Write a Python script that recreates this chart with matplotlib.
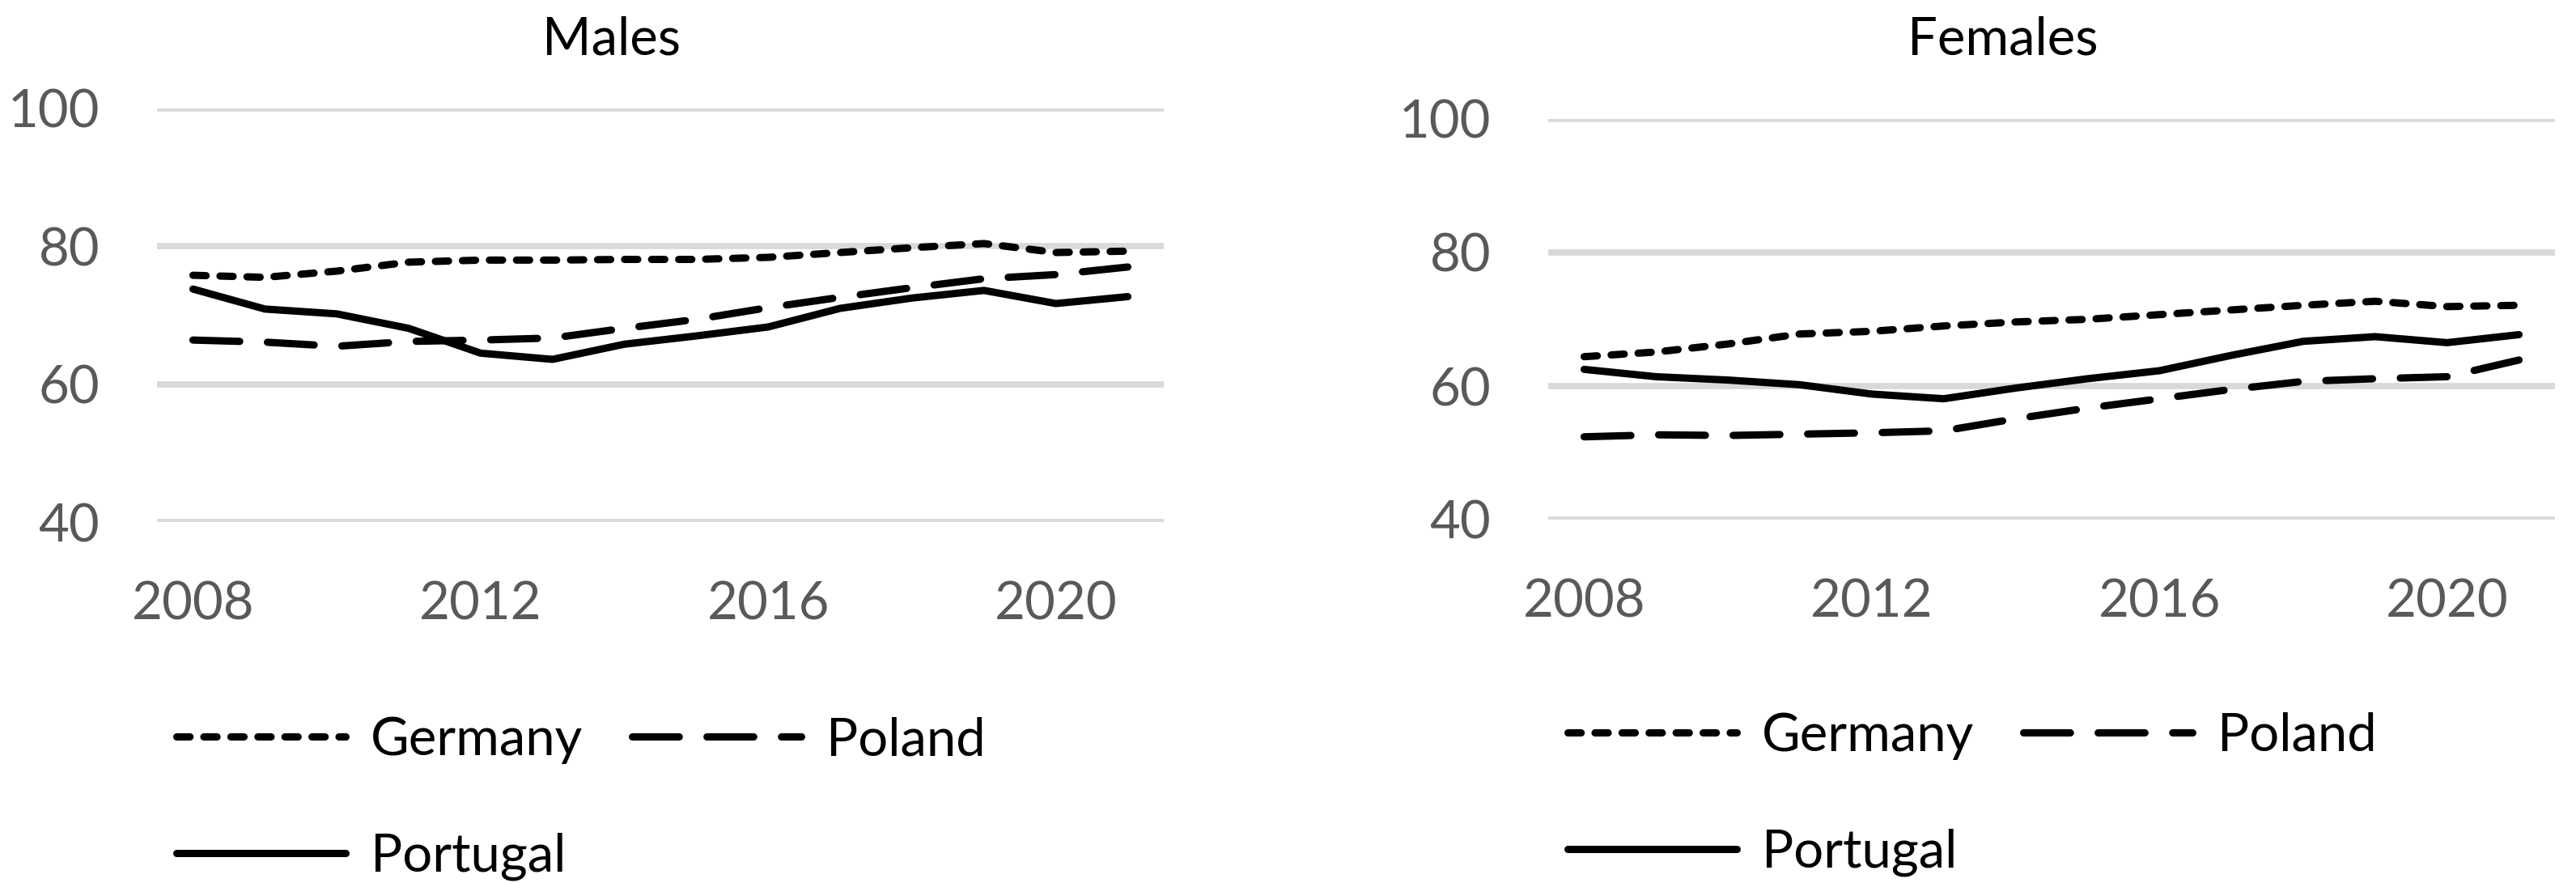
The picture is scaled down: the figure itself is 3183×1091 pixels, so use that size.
import matplotlib
matplotlib.use('Agg')
import matplotlib.pyplot as plt

years = [2008, 2009, 2010, 2011, 2012, 2013, 2014, 2015, 2016, 2017, 2018, 2019, 2020, 2021]

# males
germany_m = [75.8, 75.5, 76.4, 77.7, 78.0, 78.0, 78.1, 78.1, 78.4, 79.1, 79.8, 80.4, 79.1, 79.3]
poland_m = [66.4, 66.1, 65.5, 66.2, 66.4, 66.7, 68.1, 69.4, 71.1, 72.6, 74.0, 75.3, 75.9, 77.0]
portugal_m = [73.8, 70.9, 70.2, 68.1, 64.5, 63.6, 65.8, 67.0, 68.3, 71.0, 72.5, 73.6, 71.7, 72.7]

# females
germany_f = [64.4, 65.1, 66.3, 67.8, 68.2, 69.0, 69.6, 70.0, 70.7, 71.4, 72.1, 72.7, 71.9, 72.1]
poland_f = [52.4, 52.7, 52.6, 52.8, 53.0, 53.3, 55.1, 56.7, 58.1, 59.5, 60.7, 61.1, 61.4, 63.9]
portugal_f = [62.5, 61.4, 60.9, 60.2, 58.8, 58.1, 59.7, 61.1, 62.3, 64.6, 66.7, 67.4, 66.5, 67.7]

xticks = [2008, 2012, 2016, 2020]
yticks = [40, 60, 80, 100]

plt.rcParams['font.family'] = ['Lato', 'DejaVu Sans']

W, H = 3183, 1091
fig = plt.figure(figsize=(W / 100, H / 100), dpi=100)

LW = 6.5
FS = 47
dotted = (0, (1.8, 1.9))
dashed = (0, (6.4, 3.8))


def panel(rect, title, g, pl, pt, leg_anchor):
    ax = fig.add_axes(rect)
    l1, = ax.plot(years, g, color='black', lw=LW, linestyle=dotted,
                  dash_capstyle='round', solid_capstyle='round', label='Germany')
    l2, = ax.plot(years, pl, color='black', lw=LW, linestyle=dashed,
                  dash_capstyle='round', solid_capstyle='round', label='Poland')
    l3, = ax.plot(years, pt, color='black', lw=LW, linestyle='-',
                  solid_capstyle='round', solid_joinstyle='round', label='Portugal')
    ax.set_xlim(2007.5, 2021.5)
    ax.set_ylim(40, 100)
    ax.set_xticks(xticks)
    ax.set_yticks(yticks)
    ax.grid(axis='y', color='#D9D9D9', lw=5.5)
    ax.set_axisbelow(True)
    for s in ax.spines.values():
        s.set_visible(False)
    ax.tick_params(length=0, labelsize=FS, labelcolor='#595959')
    ax.tick_params(axis='y', pad=51)
    ax.tick_params(axis='x', pad=52)
    # title centred on the chart area
    fig.text(rect[0] + 562 / W, 1 - 68 / H, title, ha='center', va='baseline',
             fontsize=FS, color='black')
    ax.legend([l1, l3, l2], ['Germany', 'Portugal', 'Poland'], ncol=2,
              loc='upper left', bbox_to_anchor=leg_anchor, bbox_transform=fig.transFigure,
              frameon=False, fontsize=FS, handlelength=3.2, handletextpad=0.47,
              columnspacing=0.94, labelspacing=1.3, borderpad=0, borderaxespad=0)
    return ax


panel([194 / W, 1 - 645 / H, 1244 / W, 511 / H], 'Males',
      germany_m, poland_m, portugal_m, (218 / W, 1 - 885 / H))
panel([1913 / W, 1 - 642 / H, 1244 / W, 495 / H], 'Females',
      germany_f, poland_f, portugal_f, (1937 / W, 1 - 880 / H))

fig.savefig('out.png', dpi=100, facecolor='white')
